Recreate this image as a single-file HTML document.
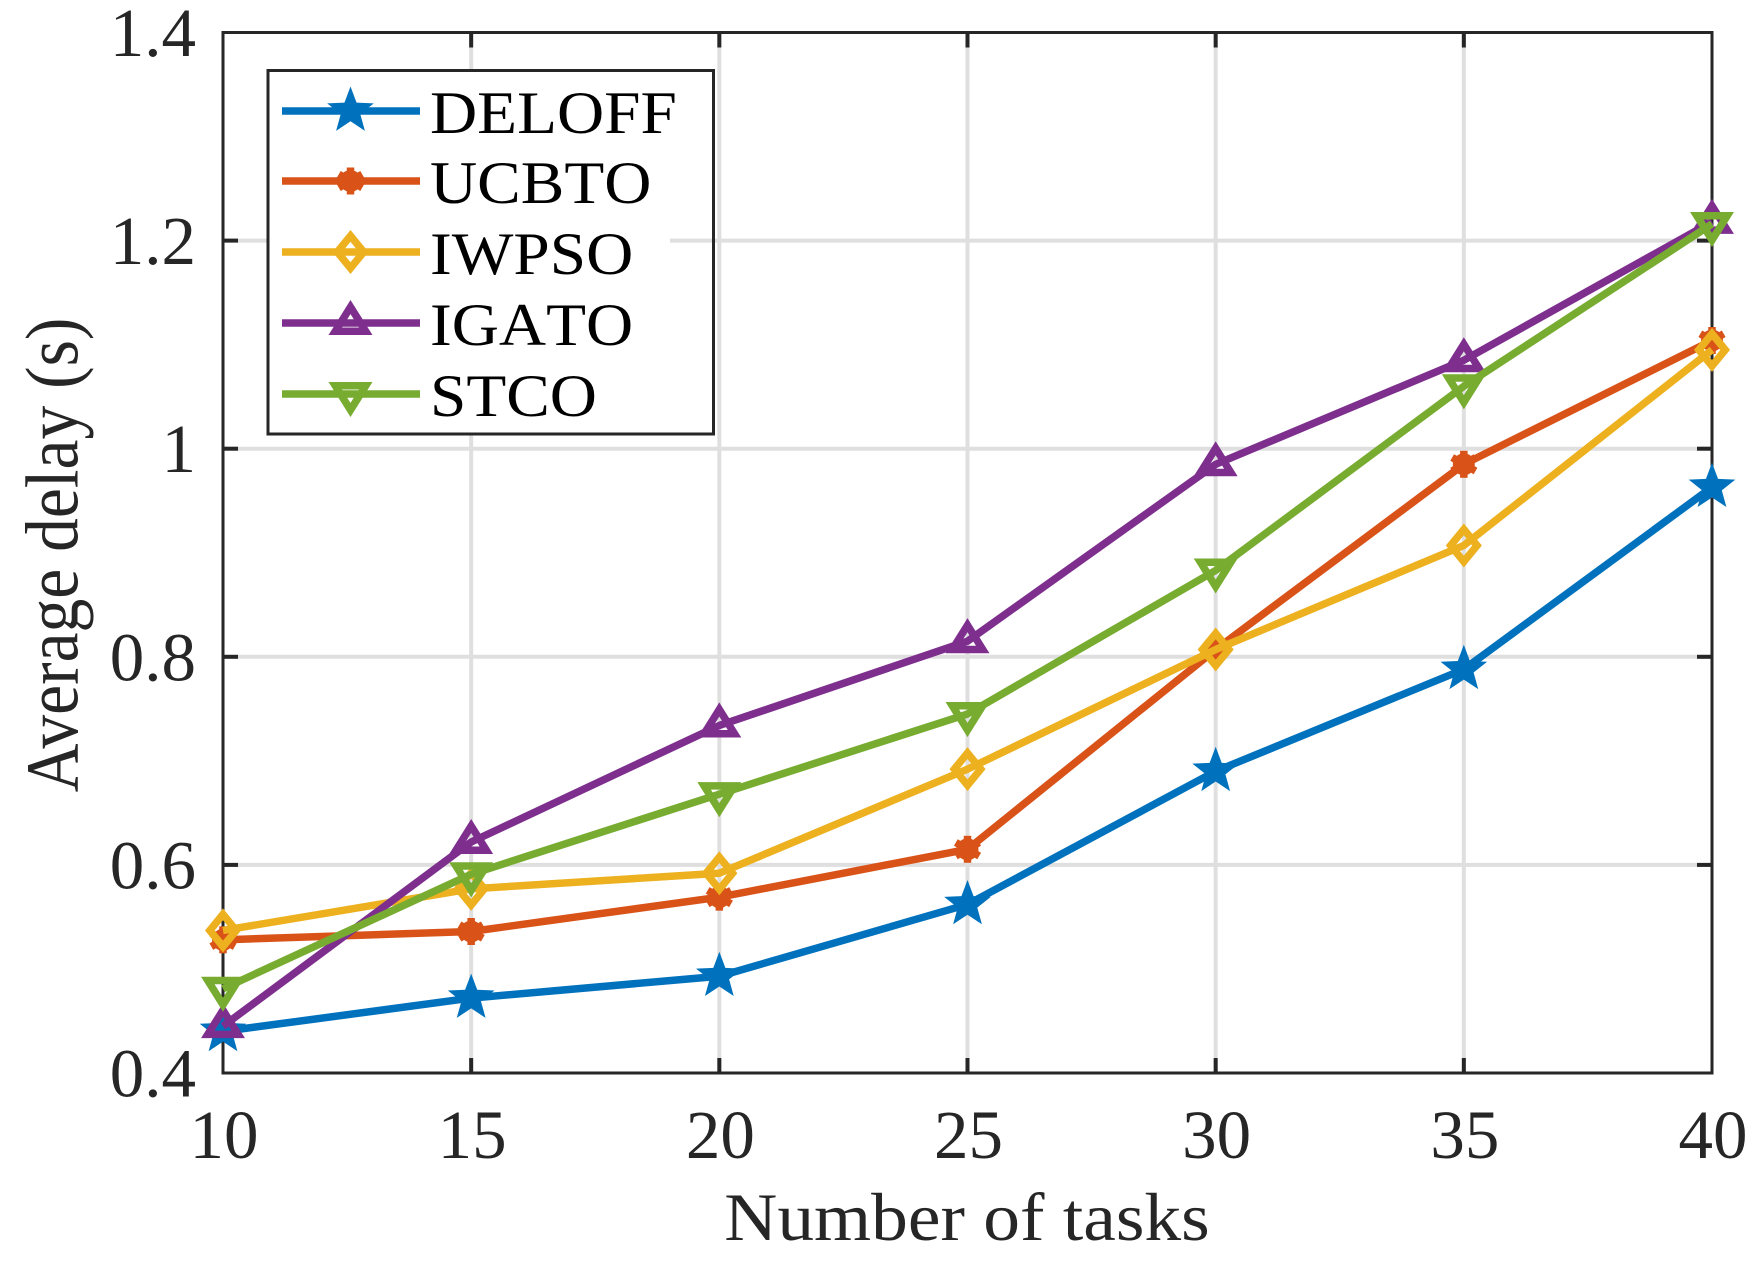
<!DOCTYPE html>
<html lang="en">
<head>
<meta charset="utf-8">
<title>Average delay vs number of tasks</title>
<style>
html,body{margin:0;padding:0;background:#fff;}
svg{display:block;font-family:"Liberation Serif","Times New Roman",serif;}
</style>
</head>
<body>
<svg id="chart" xmlns="http://www.w3.org/2000/svg" width="1761" height="1266" viewBox="0 0 1761 1266">
  <rect x="0" y="0" width="1761" height="1266" fill="#fff"/>
  <g id="grid"></g>
  <g id="axes"></g>
  <g id="series"></g>
  <g id="legend"></g>
  <text transform="translate(967,1240) scale(1.08,1)" font-size="68" fill="#262626" text-anchor="middle">Number of tasks</text>
  <text transform="translate(77.5,555) rotate(-90) scale(0.9,1)" font-size="75" fill="#262626" text-anchor="middle">Average delay (s)</text>
</svg>
<script>
const xCategories = [10, 15, 20, 25, 30, 35, 40];
const yTicks = [0.4, 0.6, 0.8, 1, 1.2, 1.4];
const yTickLabels = ["0.4", "0.6", "0.8", "1", "1.2", "1.4"];
const seriesNames = ["DELOFF", "UCBTO", "IWPSO", "IGATO", "STCO"];
const deloffValues = [0.440, 0.472, 0.493, 0.562, 0.690, 0.788, 0.963];
const ucbtoValues = [0.528, 0.536, 0.569, 0.615, 0.807, 0.985, 1.104];
const iwpsoValues = [0.537, 0.577, 0.592, 0.692, 0.807, 0.907, 1.095];
const igatoValues = [0.445, 0.622, 0.734, 0.815, 0.985, 1.085, 1.218];
const stcoValues = [0.481, 0.591, 0.668, 0.745, 0.883, 1.060, 1.216];

const SVGNS = "http://www.w3.org/2000/svg";
const plot = {left: 223, right: 1712, top: 32.5, bottom: 1073};
const xDomain = [10, 40];
const yDomain = [0.4, 1.4];
const INK = "#262626";
const GRID = "#dfdfdf";
const LINE_W = 7.5;

function xScale(v) {
  return plot.left + (v - xDomain[0]) / (xDomain[1] - xDomain[0]) * (plot.right - plot.left);
}
function yScale(v) {
  return plot.bottom - (v - yDomain[0]) / (yDomain[1] - yDomain[0]) * (plot.bottom - plot.top);
}
function make(tag, attrs, parent) {
  const el = document.createElementNS(SVGNS, tag);
  for (const k in attrs) el.setAttribute(k, attrs[k]);
  parent.appendChild(el);
  return el;
}
function starPoints(cx, cy, R) {
  const pts = [];
  for (let i = 0; i < 10; i++) {
    const r = i % 2 === 0 ? R : R * 0.42;
    const a = -Math.PI / 2 + i * Math.PI / 5;
    pts.push((cx + r * Math.cos(a)).toFixed(2) + "," + (cy + r * Math.sin(a)).toFixed(2));
  }
  return pts.join(" ");
}
function shapePoints(shape, cx, cy) {
  return shape.map(function (p) { return (cx + p[0]).toFixed(2) + "," + (cy + p[1]).toFixed(2); }).join(" ");
}
function drawMarker(kind, cx, cy, color, parent) {
  const g = make("g", {}, parent);
  
  
  const stroke = {fill: "none", stroke: color, "stroke-width": LINE_W, "stroke-linejoin": "miter", "stroke-miterlimit": 20};
  if (kind === "star") {
    make("polygon", {points: starPoints(cx, cy, 24.5), fill: color}, g);
  } else if (kind === "asterisk") {
    make("circle", {cx: cx, cy: cy, r: 11, fill: color}, g);
    [90, 30, -30].forEach(function (deg) {
      const a = deg * Math.PI / 180;
      const dx = 13.5 * Math.cos(a), dy = 13.5 * Math.sin(a);
      make("line", {x1: cx - dx, y1: cy - dy, x2: cx + dx, y2: cy + dy, stroke: color, "stroke-width": LINE_W}, g);
    });
  } else if (kind === "diamond") {
    make("polygon", Object.assign({points: shapePoints([[0, -16.1], [13.2, 0], [0, 16.1], [-13.2, 0]], cx, cy)}, stroke), g);
  } else if (kind === "triangle-up") {
    make("polygon", Object.assign({points: shapePoints([[0, -16], [15.2, 8.25], [-15.2, 8.25]], cx, cy)}, stroke), g);
  } else if (kind === "triangle-down") {
    make("polygon", Object.assign({points: shapePoints([[0, 16], [15.2, -8.25], [-15.2, -8.25]], cx, cy)}, stroke), g);
  }
}

const seriesValues = [deloffValues, ucbtoValues, iwpsoValues, igatoValues, stcoValues];
const seriesColors = ["#0072BD", "#D95319", "#EDB120", "#7E2F8E", "#77AC30"];
const seriesMarkers = ["star", "asterisk", "diamond", "triangle-up", "triangle-down"];

const gridG = document.getElementById("grid");
const axesG = document.getElementById("axes");
const seriesG = document.getElementById("series");
const legendG = document.getElementById("legend");

xCategories.forEach(function (v) {
  const x = xScale(v);
  if (v !== xDomain[0] && v !== xDomain[1]) {
    const gl = make("line", {x1: x, x2: x, y1: plot.top, y2: plot.bottom, stroke: GRID, "stroke-width": 4}, gridG);
    
    
    const t1 = make("line", {x1: x, x2: x, y1: plot.bottom, y2: plot.bottom - 15, stroke: INK, "stroke-width": 4}, axesG);
    
    
    const t2 = make("line", {x1: x, x2: x, y1: plot.top, y2: plot.top + 15, stroke: INK, "stroke-width": 4}, axesG);
    
    
  }
  const lab = make("text", {x: x + 1, y: 1158, "font-size": 69, fill: INK, "text-anchor": "middle"}, axesG);
  lab.textContent = String(v);
  
  
});

yTicks.forEach(function (v, i) {
  const y = yScale(v);
  if (v !== yDomain[0] && v !== yDomain[1]) {
    const gl = make("line", {x1: plot.left, x2: plot.right, y1: y, y2: y, stroke: GRID, "stroke-width": 4}, gridG);
    
    
    const t1 = make("line", {x1: plot.left, x2: plot.left + 15, y1: y, y2: y, stroke: INK, "stroke-width": 4}, axesG);
    
    
    const t2 = make("line", {x1: plot.right, x2: plot.right - 15, y1: y, y2: y, stroke: INK, "stroke-width": 4}, axesG);
    
    
  }
  const lab = make("text", {x: 196, y: y + 23.5, "font-size": 69, fill: INK, "text-anchor": "end"}, axesG);
  lab.textContent = yTickLabels[i];
  
  
});

const box = make("rect", {x: plot.left, y: plot.top, width: plot.right - plot.left, height: plot.bottom - plot.top, fill: "none", stroke: INK, "stroke-width": 3}, axesG);



seriesNames.forEach(function (name, s) {
  const g = make("g", {}, seriesG);
  
  
  const values = seriesValues[s];
  const pts = values.map(function (v, i) { return xScale(xCategories[i]).toFixed(2) + "," + yScale(v).toFixed(2); }).join(" ");
  const line = make("polyline", {points: pts, fill: "none", stroke: seriesColors[s], "stroke-width": LINE_W, "stroke-linejoin": "round"}, g);
  
  
  values.forEach(function (v, i) {
    drawMarker(seriesMarkers[s], xScale(xCategories[i]), yScale(v), seriesColors[s], g);
  });
});

const legendBox = make("rect", {x: 268, y: 70.5, width: 445.5, height: 363.5, fill: "#fff", stroke: INK, "stroke-width": 3}, legendG);


const gridPeek = make("line", {x1: 670, x2: 712, y1: yScale(1.2), y2: yScale(1.2), stroke: GRID, "stroke-width": 4}, legendG);



const legendRowY = [111, 181, 252, 323, 394];
seriesNames.forEach(function (name, s) {
  const g = make("g", {}, legendG);
  
  
  const y = legendRowY[s];
  make("line", {x1: 282, x2: 420, y1: y, y2: y, stroke: seriesColors[s], "stroke-width": LINE_W}, g);
  drawMarker(seriesMarkers[s], 350.5, y, seriesColors[s], g);
  const t = make("text", {transform: "translate(430," + (y + 22) + ") scale(1.08,1)", "font-size": 60.5, fill: "#000", style: "font-kerning:none"}, g);
  t.textContent = name;
  
  
});
</script>
</body>
</html>
